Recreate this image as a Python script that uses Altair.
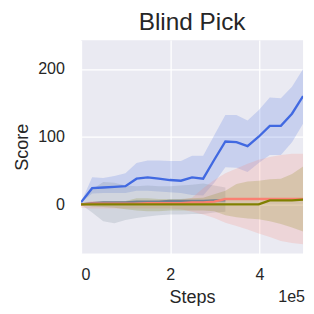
import altair as alt
import pandas as pd

steps = [0, 24900, 49800, 74700, 99600, 124500, 149400, 174300, 199200, 224100,
         249000, 273900, 298800, 323700, 348600, 373500, 398400, 423300, 448200,
         473100, 498000]

series_names = ["S1", "S2", "S3", "S4"]
series_colors = ["#4169E1", "#708090", "#FA8072", "#808000"]

blue_mean = [3, 24, 25, 26, 27, 38, 40, 38, 36, 35, 40, 38, 66, 93, 92, 86, 100, 116, 116, 134, 160]
blue_lo = [3, 16, 17, 17, 17, 20, 20, 19, 18, 17, 14, 13, 32, 55, 54, 48, 61, 73, 73, 92, 119]
blue_hi = [3, 40, 39, 42, 46, 61, 65, 65, 64, 64, 72, 72, 102, 132, 132, 124, 139, 158, 157, 174, 200]

gray_mean = [0, 2, 3, 3, 3, 4, 4, 4, 5, 5, 5, 5, 6, 6]
gray_lo = [0, -12, -25, -28, -23, -20, -18, -16, -15, -15, -14, -14, -12, -11]
gray_hi = [0, 22, 33, 32, 28, 27, 28, 27, 27, 28, 29, 31, 28, 25]

red_mean = [0, 1, 1, 1, 1, 1, 2, 2, 2, 2, 3, 3, 4, 8, 8, 8, 8, 8, 8, 8, 8]
red_lo = [-5, -6, -6, -6, -6, -6, -6, -6, -6, -7, -11, -15, -20, -27, -32, -37, -43, -48, -54, -57, -59]
red_hi = [2, 5, 5, 5, 5, 5, 5, 6, 6, 7, 10, 24, 36, 46, 53, 60, 66, 70, 73, 75, 75]

olive_mean = [0, 0, 0, 0, 0, 0, 0, 0, 0, 0, 0, 0, 0, 0, 0, 0, 0, 6, 6, 6, 7]
olive_lo = [0, -3, -4, -5, -7, -9, -10, -10, -9, -9, -9, -9, -10, -16, -19, -21, -22, -25, -29, -34, -40]
olive_hi = [0, 3, 4, 4, 5, 9, 9, 8, 8, 8, 9, 10, 15, 20, 30, 34, 35, 37, 38, 45, 56]

title_text = ["Blind Pick"]
exponent_text = ["1e5"]

rows = []
for name, m, lo, hi in [
    (series_names[0], blue_mean, blue_lo, blue_hi),
    (series_names[1], gray_mean, gray_lo, gray_hi),
    (series_names[2], red_mean, red_lo, red_hi),
    (series_names[3], olive_mean, olive_lo, olive_hi),
]:
    for s, a, b, c in zip(steps, m, lo, hi):
        rows.append({"series": name, "step": s, "mean": a, "lo": b, "hi": c})
df = pd.DataFrame(rows)

FONT = "Liberation Sans"
TXT = "#262626"

xscale = alt.Scale(domain=[0, 498000], nice=False, zero=False)
yscale = alt.Scale(domain=[-72.4, 242.7], nice=False, zero=False)
xaxis = alt.Axis(values=[0, 200000, 400000], labelExpr="format(datum.value/100000, 'd')",
                 title="Steps", labelPadding=14, titleY=50, titleBaseline="alphabetic")
yaxis = alt.Axis(values=[0, 100, 200], title="Score", labelPadding=17,
                 titleX=-55, titleBaseline="alphabetic")
color = alt.Color("series:N", scale=alt.Scale(domain=series_names, range=series_colors), legend=None)

band = alt.Chart(df).mark_area(opacity=0.2, clip=True).encode(
    x=alt.X("step:Q", scale=xscale, axis=xaxis),
    y=alt.Y("lo:Q", scale=yscale, axis=yaxis),
    y2="hi:Q",
    color=color,
    detail="series:N",
)
line = alt.Chart(df).mark_line(strokeWidth=2.4, clip=True).encode(
    x=alt.X("step:Q", scale=xscale),
    y=alt.Y("mean:Q", scale=yscale),
    color=color,
)
exp_layer = alt.Chart(alt.Data(values=[{"t": exponent_text[0]}])).mark_text(
    align="right", baseline="alphabetic", fontSize=16.5, font=FONT, color=TXT
).encode(text="t:N", x=alt.value(230), y=alt.value(269))
title_layer = alt.Chart(alt.Data(values=[{"t": title_text[0]}])).mark_text(
    align="center", baseline="alphabetic", fontSize=25, font=FONT, color=TXT
).encode(text="t:N", x=alt.value(114), y=alt.value(-10))

chart = alt.layer(band, line, exp_layer, title_layer).properties(
    width=228,
    height=219,
    autosize=alt.AutoSizeParams(type="none"),
    padding={"left": 75, "top": 29, "right": 3, "bottom": 50},
).configure_view(
    fill="#EAEAF2", strokeWidth=0
).configure_axis(
    grid=True, gridColor="white", gridWidth=1.3, domain=False, ticks=False, tickSize=0,
    labelFont=FONT, labelFontSize=16.5, labelColor=TXT,
    titleFont=FONT, titleFontSize=18.5, titleFontWeight="normal", titleColor=TXT,
)

chart.save("out.html", embed_options={"renderer": "svg", "actions": False})
